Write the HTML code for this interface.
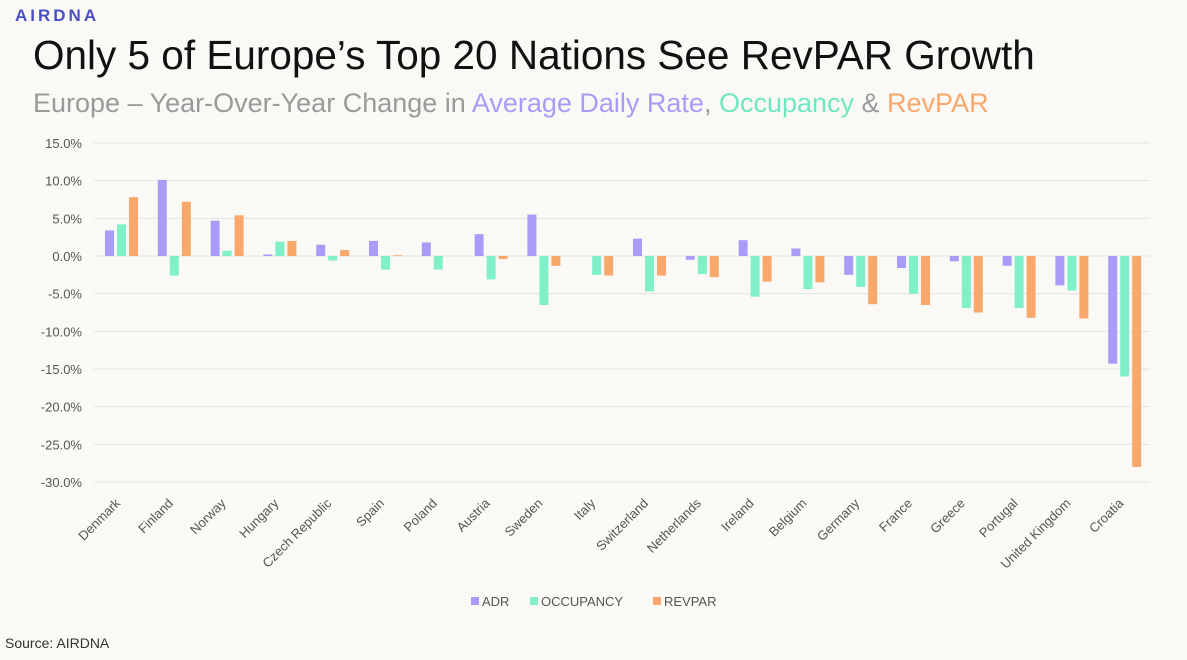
<!DOCTYPE html>
<html><head><meta charset="utf-8"><style>
body{margin:0;background:#faf9f6;width:1187px;height:655px;overflow:hidden;font-family:"Liberation Sans",sans-serif}
</style></head><body>
<svg width="1187" height="655" xmlns="http://www.w3.org/2000/svg" font-family="Liberation Sans, sans-serif">
<rect width="1187" height="655" fill="#faf9f6"/>
<text x="15" y="21" font-size="17" fill="#4b4fc4" font-weight="bold" letter-spacing="3">AIRDNA</text>
<text x="33" y="69" font-size="40.5" fill="#111">Only 5 of Europe’s Top 20 Nations See RevPAR Growth</text>
<text x="33" y="112" font-size="27" fill="#9a9a9a">Europe – Year-Over-Year Change in <tspan fill="#a99cf7">Average Daily Rate</tspan>, <tspan fill="#6fe8c0">Occupancy</tspan> &amp; <tspan fill="#f8a86a">RevPAR</tspan></text>
<g id="g"></g>
<text x="5" y="648" font-size="14" fill="#333">Source: AIRDNA</text>
<rect x="471" y="597" width="8" height="8" fill="#a99cf7"/><text x="482" y="606" font-size="13" fill="#555">ADR</text>
<rect x="530" y="597" width="8" height="8" fill="#7ff0c8"/><text x="541" y="606" font-size="13" fill="#555">OCCUPANCY</text>
<rect x="653" y="597" width="8" height="8" fill="#f8a86a"/><text x="664" y="606" font-size="13" fill="#555">REVPAR</text>
</svg>
<script>
const g=document.getElementById('g');let h='';
const z=256,s=7.533;
for(let v=15;v>=-30;v-=5){const y=z-v*s;h+=`<line x1="94" x2="1150" y1="${y}" y2="${y}" stroke="#e3e3e1" stroke-width="1"/><text x="82" y="${y+5}" font-size="13" fill="#555" text-anchor="end">${v.toFixed(1)}%</text>`;}
const d=[["Denmark",3.4,4.2,7.8],["Finland",10.1,-2.6,7.2],["Norway",4.7,0.7,5.4],["Hungary",0.2,1.9,2.0],["Czech Republic",1.5,-0.6,0.8],["Spain",2.0,-1.8,0.1],["Poland",1.8,-1.8,0],["Austria",2.9,-3.1,-0.4],["Sweden",5.5,-6.5,-1.3],["Italy",0,-2.5,-2.6],["Switzerland",2.3,-4.7,-2.6],["Netherlands",-0.5,-2.4,-2.8],["Ireland",2.1,-5.4,-3.4],["Belgium",1.0,-4.4,-3.5],["Germany",-2.5,-4.1,-6.4],["France",-1.6,-5.0,-6.5],["Greece",-0.7,-6.9,-7.5],["Portugal",-1.3,-6.9,-8.2],["United Kingdom",-3.9,-4.6,-8.3],["Croatia",-14.3,-16,-28.0]];
const c=["#a99cf7","#7ff0c8","#f8a86a"];
d.forEach((r,i)=>{const x0=105+52.8*i;for(let k=0;k<3;k++){const v=r[k+1];const y=v>=0?z-v*s:z;const hh=Math.abs(v)*s;h+=`<rect x="${x0+k*12}" y="${y}" width="9" height="${hh}" fill="${c[k]}"/>`;}
const lx=x0+16;h+=`<text transform="translate(${lx},504) rotate(-45)" font-size="13" fill="#555" text-anchor="end">${r[0]}</text>`;});
g.innerHTML=h;
</script>
</body></html>
